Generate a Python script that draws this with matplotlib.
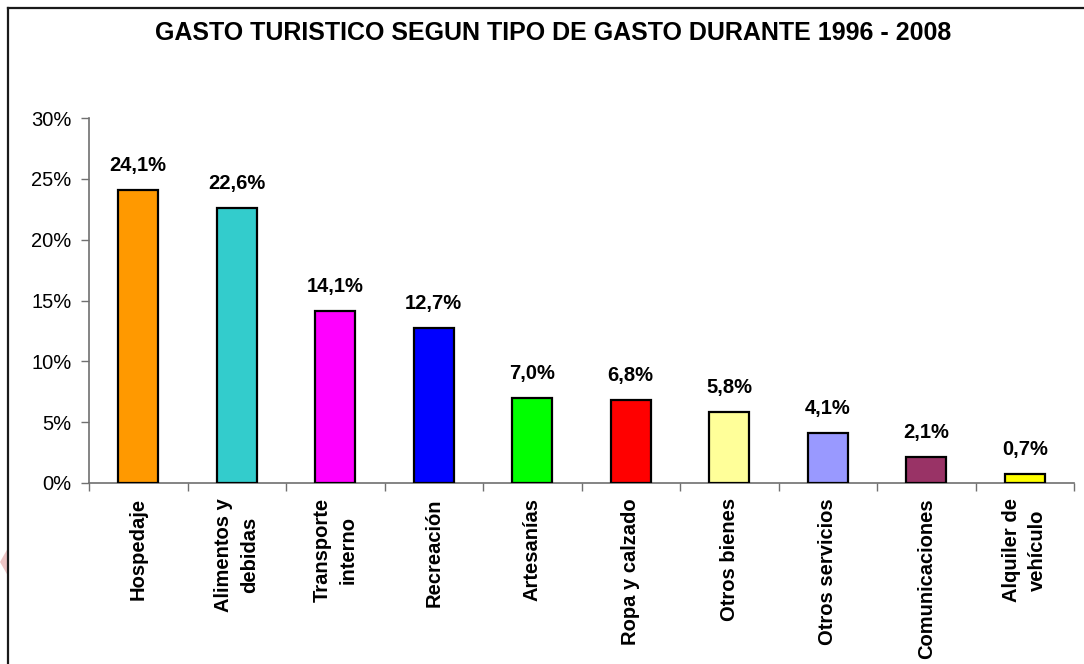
import matplotlib.pyplot as plt
from matplotlib.lines import Line2D
from matplotlib.patches import Polygon
from matplotlib.ticker import FuncFormatter

plt.rcParams['font.family'] = ['Liberation Sans', 'DejaVu Sans']

# datos
categorias = ['Hospedaje', 'Alimentos y\ndebidas', 'Transporte\ninterno', 'Recreación',
              'Artesanías', 'Ropa y calzado', 'Otros bienes', 'Otros servicios',
              'Comunicaciones', 'Alquiler de\nvehículo']
valores = [24.1, 22.6, 14.1, 12.7, 7.0, 6.8, 5.8, 4.1, 2.1, 0.7]
colores = ['#FF9900', '#33CCCC', '#FF00FF', '#0000FF', '#00FF00',
           '#FF0000', '#FFFF99', '#9999FF', '#993366', '#FFFF00']
titulo = 'GASTO TURISTICO SEGUN TIPO DE GASTO DURANTE 1996 - 2008'

W, H = 1084, 664
fig = plt.figure(figsize=(W / 100, H / 100), dpi=100)

# ejes en pixeles: x 89..1074, y 118..483
ax = fig.add_axes([89 / W, 1 - 483 / H, (1074 - 89) / W, (483 - 118) / H])

x = list(range(len(valores)))
ax.bar(x, valores, width=0.41, color=colores, edgecolor='black', linewidth=1.6, zorder=3)

for xi, v in zip(x, valores):
    ax.annotate(f'{v:.1f}%'.replace('.', ','), (xi, v), xytext=(0, 11),
                textcoords='offset points', ha='center', va='bottom',
                fontsize=14.5, fontweight='bold')

ax.set_xlim(-0.5, len(valores) - 0.5)
ax.set_ylim(0, 30)
ax.set_yticks(range(0, 31, 5))
ax.yaxis.set_major_formatter(FuncFormatter(lambda v, p: f'{v:.0f}%'))

# ticks del eje x en los limites de categoria
ax.set_xticks([i - 0.5 for i in range(len(valores) + 1)])
ax.set_xticklabels([])
ax.set_xticks(x, minor=True)
ax.set_xticklabels(categorias, minor=True, rotation=90, fontsize=14.5, fontweight='bold',
                   va='top', ha='center', multialignment='center', linespacing=1.45)
ax.tick_params(axis='x', which='minor', length=0, pad=11)
ax.tick_params(axis='x', which='major', length=6, width=1, color='#707070', direction='out')
ax.tick_params(axis='y', length=6, width=1, color='#707070', direction='out',
               labelsize=14.5, pad=6.5)

for s in ['top', 'right']:
    ax.spines[s].set_visible(False)
for s in ['left', 'bottom']:
    ax.spines[s].set_color('#707070')
    ax.spines[s].set_linewidth(1.2)

fig.text(553 / W, 1 - 33 / H, titulo, ha='center', va='center',
         fontsize=18, fontweight='bold')

# marco del grafico
fig.add_artist(Line2D([8 / W, 8 / W], [0, 1 - 8 / H], color='#1a1a1a', linewidth=1.6,
                      transform=fig.transFigure))
fig.add_artist(Line2D([8 / W, 1], [1 - 8 / H, 1 - 8 / H], color='#1a1a1a', linewidth=1.6,
                      transform=fig.transFigure))
fig.add_artist(Polygon([[8 / W, 1 - 548 / H], [8 / W, 1 - 576 / H], [0, 1 - 562 / H]],
                       closed=True, facecolor='#ecc4c4', edgecolor='none',
                       transform=fig.transFigure))

fig.savefig('out.png', dpi=100, facecolor='white')
